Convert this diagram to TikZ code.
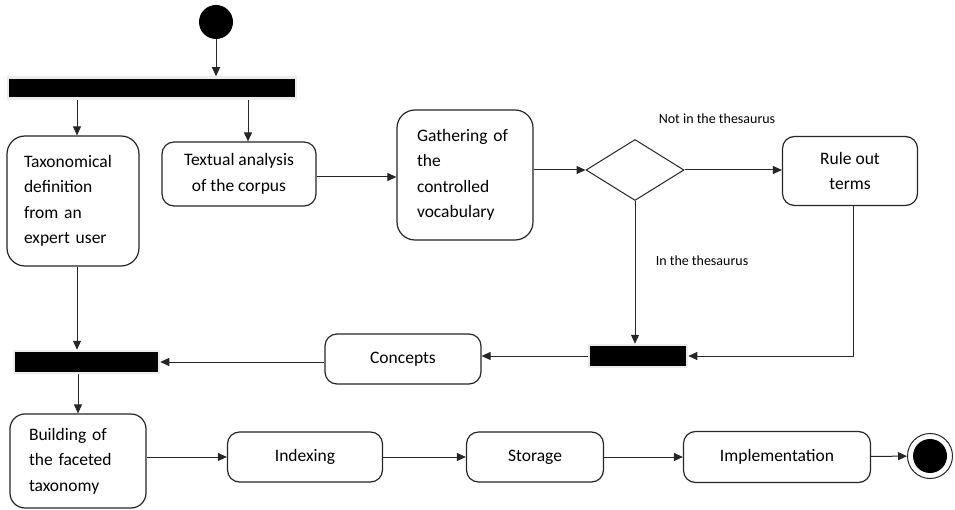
\documentclass[tikz,border=0pt]{standalone}
\usepackage{fontspec}
\setmainfont{Carlito}
\usetikzlibrary{arrows.meta,shapes.geometric}
\begin{document}
\begin{tikzpicture}[x=1pt,y=-1pt,
 box/.style={draw=black!85, line width=1.2pt, rounded corners=12pt, inner sep=0pt, font=\fontsize{17.5}{25.5}\selectfont, align=center},
 bar/.style={fill=black, draw=black!8, line width=2.5pt, inner sep=0pt},
 arr/.style={-{Triangle[length=9pt,width=8pt]}, line width=1pt, draw=black!85},
 lbl/.style={font=\fontsize{14}{16}\selectfont}]
\useasboundingbox[fill=white] (0,0) rectangle (955,510);

\node[circle, fill=black, minimum size=34pt, inner sep=0pt] (start) at (216,22) {};
\node[bar, minimum width=288pt, minimum height=21pt] (bar1) at (152,88) {};
\node[box, rounded corners=18pt, minimum width=132pt, minimum height=130pt, text width=98pt, align=left] (tax) at (73,201) {Taxonomical\\definition\\from an\\expert user};
\node[box, minimum width=154pt, minimum height=64pt] (tex) at (239,174) {Textual analysis\\of the corpus};
\node[box, rounded corners=18pt, minimum width=136pt, minimum height=130pt, text width=96pt, align=left] (gat) at (465,175) {Gathering of\\the\\controlled\\vocabulary};
\node[diamond, draw=black!85, line width=1pt, minimum width=98pt, minimum height=61pt, inner sep=0pt] (dec) at (635,170) {};
\node[box, minimum width=135pt, minimum height=69pt] (rule) at (850,171) {Rule out\\terms};
\node[bar, minimum width=98pt, minimum height=22pt] (bar2) at (638,356) {};
\node[box, minimum width=156pt, minimum height=50pt] (con) at (403,359) {Concepts};
\node[bar, minimum width=145pt, minimum height=22pt] (bar3) at (86.5,362) {};
\node[box, rounded corners=15pt, minimum width=136pt, minimum height=94pt, text width=98pt, align=left] (bui) at (78,461) {Building of\\the faceted\\taxonomy};
\node[box, minimum width=155pt, minimum height=50pt] (ind) at (305,457) {Indexing};
\node[box, minimum width=137pt, minimum height=50pt] (sto) at (535,457) {Storage};
\node[box, minimum width=187pt, minimum height=51pt] (imp) at (777,457) {Implementation};
\node[circle, draw=black!85, line width=1pt, minimum size=45pt, inner sep=0pt] (end) at (930,456) {};
\node[circle, fill=black, minimum size=34pt, inner sep=0pt] (endin) at (end) {};

\node[lbl] (lnot) at (717,119) {Not in the thesaurus};
\node[lbl] (lin) at (702,261) {In the thesaurus};

\draw[arr] (start) -- (start |- bar1.north);
\draw[arr] ([xshift=4pt]tax.north |- bar1.south) -- ([xshift=4pt]tax.north);
\draw[arr] ([xshift=9pt]tex.north |- bar1.south) -- ([xshift=9pt]tex.north);
\draw[arr] ([yshift=-3pt]tex.east) -- ([yshift=-3pt]tex.east -| gat.west);
\draw[arr] (gat.east |- dec) -- (dec.west);
\draw[arr] (dec.east) -- (dec.east -| rule.west);
\draw[arr] (dec.south) -- (dec.south |- bar2.north);
\draw[arr] ([xshift=3pt]rule.south) |- (bar2.east);
\draw[arr] (bar2.west) -- (bar2.west -| con.east);
\draw[arr] (con.west |- bar3) -- (bar3.east);
\draw[arr] ([xshift=4pt]tax.south) -- ([xshift=4pt]tax.south |- bar3.north);
\draw[arr] (bar3.south -| bui) -- (bui.north);
\draw[arr] (bui.east |- ind.west) -- (ind.west);
\draw[arr] (ind) -- (sto);
\draw[arr] (sto) -- (imp);
\draw[arr] (imp) -- (end);
\end{tikzpicture}
\end{document}
